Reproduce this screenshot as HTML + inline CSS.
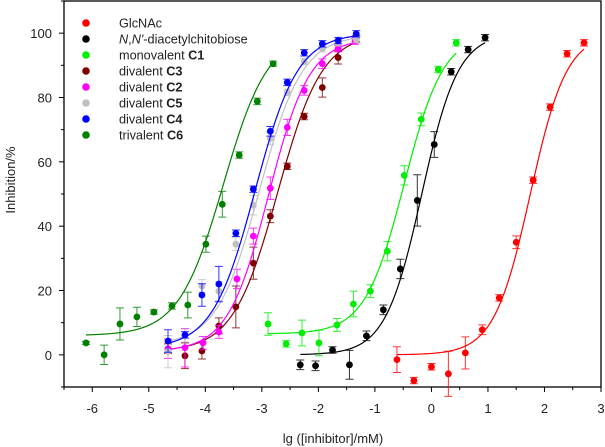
<!DOCTYPE html>
<html><head><meta charset="utf-8"><style>
html,body{margin:0;padding:0;background:#fff;}
svg{display:block;font-family:"Liberation Sans",Arial,sans-serif;}
</style></head><body>
<svg id="chart" width="605" height="447" viewBox="0 0 605 447"></svg>
<script>
// categories / series
const seriesNames = ["GlcNAc","N,N'-diacetylchitobiose","monovalent C1","divalent C3","divalent C2","divalent C5","divalent C4","trivalent C6"];
const seriesColors = ["#ff0000","#000000","#00ee00","#800000","#ff00ff","#c0c0c0","#0000ff","#008000"];
const glcX = [-0.61,-0.31,0.0,0.30,0.60,0.90,1.20,1.50,1.80,2.10,2.40,2.70];
const glcY = [-1.5,-8,-3.7,-5.9,0.6,7.8,17.7,35,54.3,77,93.6,97];
const glcE = [4,1,1,7,5,1.5,1,2,1,1,1,1];
const chitoX = [-2.32,-2.05,-1.75,-1.45,-1.15,-0.85,-0.55,-0.25,0.05,0.35,0.65,0.95];
const chitoY = [-3.1,-3.4,1.5,-3.1,5.9,14,26.7,48,65.4,88,94.9,98.6];
const chitoE = [1.5,1.5,1,4.5,1.5,1.5,3,8,4,1,1,1];
const c1X = [-2.89,-2.57,-2.29,-1.99,-1.67,-1.38,-1.08,-0.78,-0.48,-0.18,0.12,0.44];
const c1Y = [9.6,3.4,6.8,3.7,9.3,15.8,19.8,32.2,55.8,73.2,88.7,97];
const c1E = [3.5,1,4,4,2,4,2,3,3,2,1,1];
const c3X = [-4.66,-4.36,-4.06,-3.76,-3.46,-3.15,-2.85,-2.55,-2.25,-1.93,-1.65,-1.33];
const c3Y = [1.9,-0.3,1.2,9.0,14.9,28.5,43.1,58.6,74.1,83.1,92.4,98.3];
const c3E = [1.5,4,2.5,2.5,6.5,5,2,1,1,3,2,1];
const c2X = [-4.66,-4.36,-4.04,-3.76,-3.44,-3.15,-2.85,-2.55,-2.25,-1.93,-1.65,-1.35];
const c2Y = [1.9,2.2,3.7,7.1,23.6,36.9,51.8,70.7,82.2,90.5,95.2,97.5];
const c2E = [3,6,2,2,3,2.5,3.5,2.5,1.5,1.5,1,1];
const c5X = [-4.66,-4.36,-4.06,-3.76,-3.46,-3.15,-2.85,-2.55,-2.25,-1.93,-1.65,-1.33];
const c5Y = [1,6,21.4,19.8,34.4,46.5,67.3,81.6,91.2,95.2,97,98];
const c5E = [5,2,2,3,2,3,2,1,1,1,1,1];
const c4X = [-4.66,-4.36,-4.06,-3.76,-3.46,-3.15,-2.85,-2.55,-2.25,-1.93,-1.65,-1.33];
const c4Y = [4.3,6.2,18.6,22,37.8,51.5,69.5,84.7,93.9,96.7,97.7,99.8];
const c4E = [3.5,1,3.5,5.5,1,1,1.5,1,1,1,1,1];
const c6X = [-6.11,-5.79,-5.51,-5.21,-4.91,-4.59,-4.31,-3.99,-3.70,-3.40,-3.08,-2.80];
const c6Y = [3.7,0,9.6,11.8,13.3,15.2,15.5,34.4,46.8,62.1,78.8,90.5];
const c6E = [0.5,3,5,3,0.7,1,4,2.5,4,1,1,0.8];
// fitted logistic params [bottom, top, logIC50, hill]
const glcFit = [0,100,1.75,1.35];
const chitoFit = [0,100,-0.17,1.35];
const c1Fit = [6.5,100,-0.48,1.25];
const c3Fit = [1,100,-2.72,1.1];
const c2Fit = [1,98.5,-2.88,1.2];
const c5Fit = [3,99.5,-3.04,1.15];
const c4Fit = [2,100,-3.12,1.15];
const c6Fit = [6,100,-3.68,1.1];
const xTicks = [-6,-5,-4,-3,-2,-1,0,1,2,3];
const yTicks = [0,20,40,60,80,100];

const allX=[glcX,chitoX,c1X,c3X,c2X,c5X,c4X,c6X];
const allY=[glcY,chitoY,c1Y,c3Y,c2Y,c5Y,c4Y,c6Y];
const allE=[glcE,chitoE,c1E,c3E,c2E,c5E,c4E,c6E];
const allFit=[glcFit,chitoFit,c1Fit,c3Fit,c2Fit,c5Fit,c4Fit,c6Fit];

const L=64,R=601,T=1,B=387,XMIN=-6.5,XMAX=3,YMIN=-10,YMAX=110;
const sx=v=>L+(v-XMIN)/(XMAX-XMIN)*(R-L);
const sy=v=>B-(v-YMIN)/(YMAX-YMIN)*(B-T);
const svg=document.getElementById('chart');
const NS='http://www.w3.org/2000/svg';
function mk(tag,attrs,parent){const e=document.createElementNS(NS,tag);for(const k in attrs)e.setAttribute(k,attrs[k]);(parent||svg).appendChild(e);return e;}
function logi(p,x){return p[0]+(p[1]-p[0])/(1+Math.pow(10,(p[2]-x)*p[3]));}

const frame=mk('rect',{x:L,y:T,width:R-L,height:B-T,fill:'none',stroke:'#000','stroke-width':1.3});



const xg=mk('g',{});


for(let v=-6.5;v<=3.001;v+=0.5){const major=Math.abs(v-Math.round(v))<1e-6;mk('line',{x1:sx(v),x2:sx(v),y1:B,y2:B+(major?5:3),stroke:'#000','stroke-width':1},xg);}
xTicks.forEach(v=>{const t=mk('text',{x:sx(v),y:413,'text-anchor':'middle','font-size':13,fill:'#222'},xg);t.textContent=String(v);

});
const yg=mk('g',{});


for(let v=-10;v<=110;v+=10){const major=v%20===0;mk('line',{x1:L,x2:L-(major?5:3),y1:sy(v),y2:sy(v),stroke:'#000','stroke-width':1},yg);}
yTicks.forEach(v=>{const t=mk('text',{x:52,y:sy(v)+5,'text-anchor':'end','font-size':13,fill:'#222'},yg);t.textContent=v;

});
const xt=mk('text',{x:333,y:443,'text-anchor':'middle','font-size':13,fill:'#222'});xt.textContent='lg ([inhibitor]/mM)';


const yt=mk('text',{x:0,y:0,'text-anchor':'middle','font-size':13,fill:'#222',transform:'translate(15,180) rotate(-90)'});yt.textContent='Inhibition/%';



for(let s=0;s<8;s++){
  const g=mk('g',{});
  
  
  const c=seriesColors[s],X=allX[s],Y=allY[s],E=allE[s],P=allFit[s];
  const x0=Math.min(...X),x1=Math.max(...X);let d='';
  for(let i=0;i<=120;i++){const x=x0+(x1-x0)*i/120;d+=(i?'L':'M')+sx(x).toFixed(2)+','+sy(logi(P,x)).toFixed(2);}
  const path=mk('path',{d:d,fill:'none',stroke:c,'stroke-width':1.2},g);
  
  
  X.forEach((x,i)=>{
    const px=sx(x),py=sy(Y[i]),e=E[i];
    const eb=mk('path',{d:`M${px},${sy(Y[i]+e)}V${sy(Y[i]-e)}M${px-4},${sy(Y[i]+e)}h8M${px-4},${sy(Y[i]-e)}h8`,stroke:c,'stroke-width':1,fill:'none',opacity:0.8},g);
    
    
    const pt=mk('circle',{cx:px,cy:py,r:3.4,fill:c},g);
    
    
  });
}

const lg=mk('g',{});


const legendParts=[["GlcNAc",""],["",""],["monovalent ","C1"],["divalent ","C3"],["divalent ","C2"],["divalent ","C5"],["divalent ","C4"],["trivalent ","C6"]];
seriesNames.forEach((n,i)=>{
  const y=23+i*16;
  const e=mk('g',{},lg);
  
  
  mk('circle',{cx:86,cy:y,r:3.8,fill:seriesColors[i]},e);
  const t=mk('text',{x:119,y:y+4.5,'font-size':12.7,fill:'#222'},e);
  if(i===1){t.innerHTML='<tspan font-style="italic">N</tspan>,<tspan font-style="italic">N\'</tspan>-diacetylchitobiose';}
  else{t.appendChild(document.createTextNode(legendParts[i][0]));if(legendParts[i][1]){const b=mk('tspan',{'font-weight':'bold'},t);b.textContent=legendParts[i][1];}}
});
</script>
</body></html>
